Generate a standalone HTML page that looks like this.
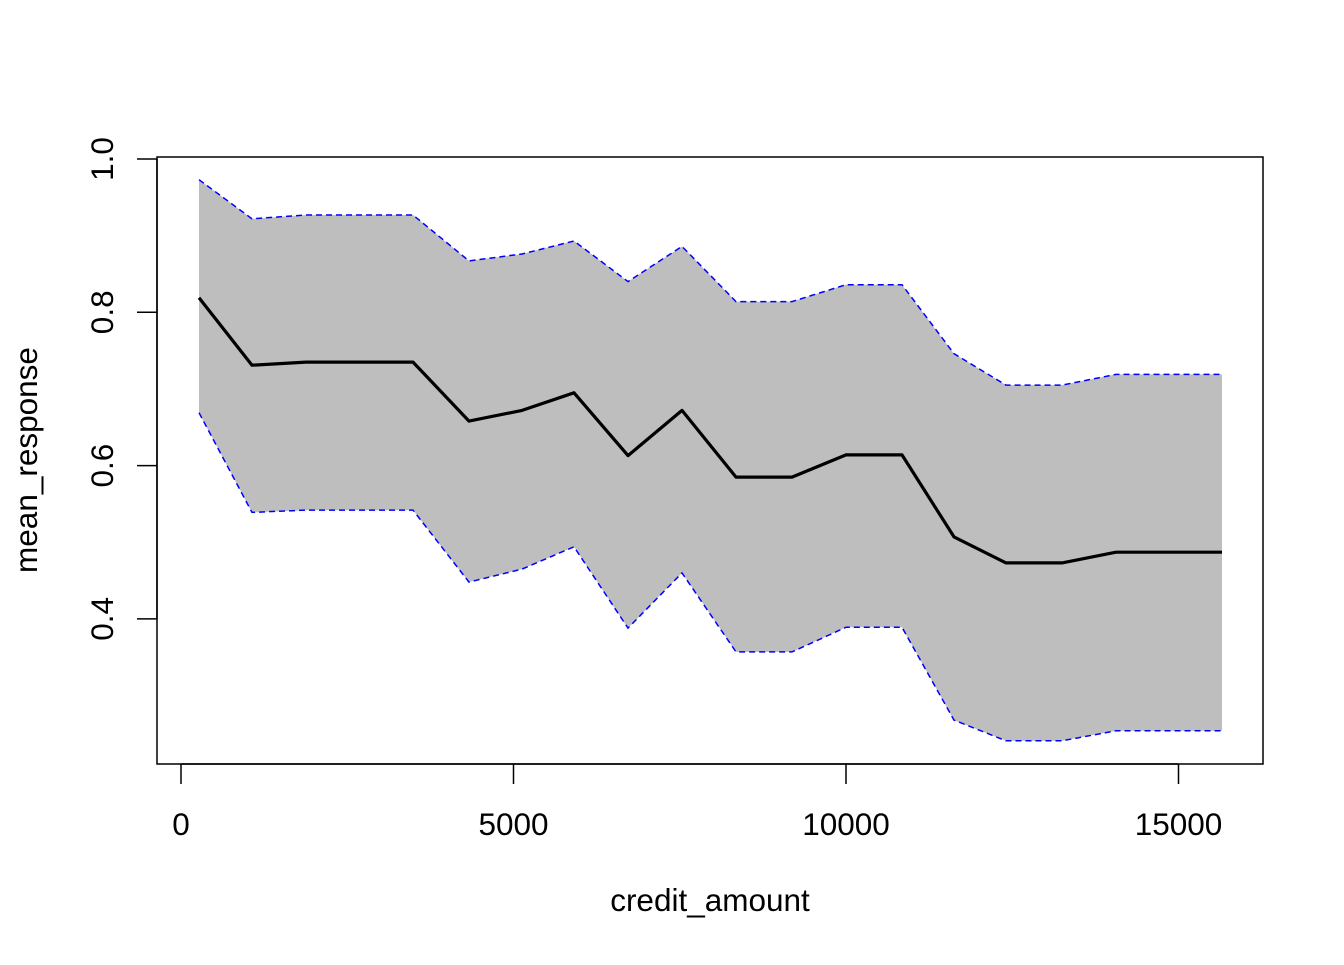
<!DOCTYPE html>
<html><head><meta charset="utf-8"><style>
html,body{margin:0;padding:0;background:#fff;}
svg text{font-family:"Liberation Sans",Arial,sans-serif;font-size:31.5px;fill:#000;}
</style></head><body>
<svg id="chart" width="1344" height="960" xmlns="http://www.w3.org/2000/svg"></svg>
<script>
const xVals=[271,1068,1880,3489,4331,5128,5910,6722,7534,8346,9188,10000,10842,11624,12406,13248,14060,15654];
const meanVals=[0.819,0.731,0.735,0.735,0.658,0.672,0.695,0.613,0.672,0.585,0.585,0.614,0.614,0.507,0.473,0.473,0.487,0.487];
const upperVals=[0.973,0.922,0.927,0.927,0.867,0.876,0.893,0.840,0.886,0.814,0.814,0.836,0.836,0.746,0.705,0.705,0.719,0.719];
const lowerVals=[0.669,0.539,0.542,0.542,0.448,0.465,0.494,0.388,0.460,0.357,0.357,0.389,0.389,0.268,0.241,0.241,0.254,0.254];
const xTicks=[0,5000,10000,15000];
const yTicks=[0.4,0.6,0.8,1.0];
const yTickLabels=["0.4","0.6","0.8","1.0"];

const NS="http://www.w3.org/2000/svg";
const svg=document.getElementById('chart');
const sx=v=>181+v*(332.5/5000);
const sy=v=>159+(1-v)*766.5;
function el(t,a,p){const e=document.createElementNS(NS,t);for(const k in a)e.setAttribute(k,a[k]);(p||svg).appendChild(e);return e;}

const pts=(ys)=>xVals.map((x,i)=>sx(x).toFixed(1)+','+sy(ys[i]).toFixed(1));
const band=el('polygon',{points:pts(upperVals).concat(pts(lowerVals).reverse()).join(' '),fill:'#bebebe',stroke:'none'});


const up=el('polyline',{points:pts(upperVals).join(' '),fill:'none',stroke:'#0000ff','stroke-width':1.5,'stroke-dasharray':'6,4'});


const lo=el('polyline',{points:pts(lowerVals).join(' '),fill:'none',stroke:'#0000ff','stroke-width':1.5,'stroke-dasharray':'6,4'});


const mn=el('polyline',{points:pts(meanVals).join(' '),fill:'none',stroke:'#000','stroke-width':3.2,'stroke-linejoin':'round'});



const box=el('rect',{x:157,y:157,width:1106,height:607,fill:'none',stroke:'#000','stroke-width':1.5});



el('line',{x1:sx(xTicks[0]),x2:sx(xTicks[xTicks.length-1]),y1:764,y2:764,stroke:'#000','stroke-width':1.5});
xTicks.forEach(t=>{
  el('line',{x1:sx(t),x2:sx(t),y1:764,y2:784,stroke:'#000','stroke-width':1.5});
  const tx=el('text',{x:sx(t),y:835,'text-anchor':'middle'});tx.textContent=String(t);
  
  
});
el('line',{x1:157,x2:157,y1:sy(yTicks[0]),y2:sy(yTicks[yTicks.length-1]),stroke:'#000','stroke-width':1.5});
yTicks.forEach((t,i)=>{
  el('line',{x1:137,x2:157,y1:sy(t),y2:sy(t),stroke:'#000','stroke-width':1.5});
  const tx=el('text',{x:113,y:sy(t),'text-anchor':'middle',transform:`rotate(-90 113 ${sy(t)})`});tx.textContent=yTickLabels[i];
  
  
});
const xt=el('text',{x:710,y:911,'text-anchor':'middle'});xt.textContent='credit_amount';


const yt=el('text',{x:37,y:460,'text-anchor':'middle',transform:'rotate(-90 37 460)'});yt.textContent='mean_response';


</script>
</body></html>
